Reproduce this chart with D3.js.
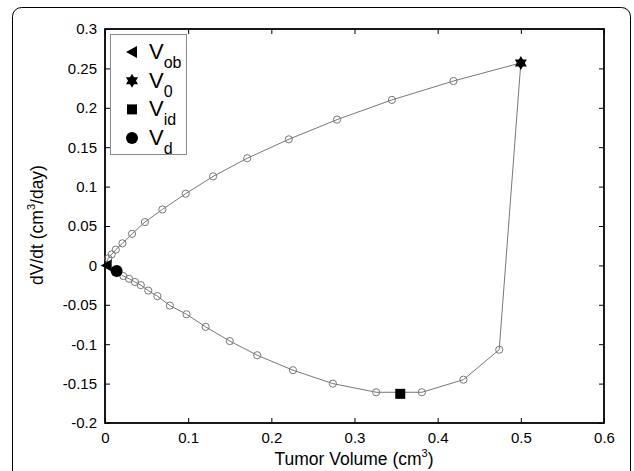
<!DOCTYPE html>
<html><head><meta charset="utf-8">
<script src="https://cdn.jsdelivr.net/npm/d3@7"></script>
<style>body{margin:0;background:#fff;} svg{display:block;font-family:"Liberation Sans",Arial,sans-serif;}</style>
</head><body>
<script>
// Trajectory data (tumor volume cm^3, dV/dt cm^3/day)
const upperV = [0.000,0.004,0.008,0.013,0.021,0.0325,0.048,0.069,0.097,0.130,0.171,0.221,0.279,0.345,0.419];
const upperR = [0.000,0.009,0.014,0.020,0.028,0.040,0.055,0.071,0.091,0.113,0.136,0.160,0.185,0.210,0.234];
const v0 = [0.5, 0.257];
const lowerV = [0.474,0.431,0.381,0.326,0.274,0.226,0.183,0.150,0.121,0.098,0.078,0.063,0.052,0.043,0.036,0.029,0.022];
const lowerR = [-0.107,-0.145,-0.161,-0.161,-0.150,-0.133,-0.114,-0.096,-0.078,-0.062,-0.051,-0.039,-0.032,-0.025,-0.021,-0.017,-0.0135];
const vd = [0.014, -0.007];
const vob = [0.002, 0.000];
const vid = [0.355, -0.163];
const xTicks = [0,0.1,0.2,0.3,0.4,0.5,0.6];
const yTicks = [-0.2,-0.15,-0.1,-0.05,0,0.05,0.1,0.15,0.2,0.25,0.3];
const legendItems = [{b:"V",s:"ob",m:"tri"},{b:"V",s:"0",m:"star"},{b:"V",s:"id",m:"sq"},{b:"V",s:"d",m:"circ"}];

const W=634,H=471;
const L=105,R=604,T=29,B=423;
const svg=d3.select("body").append("svg").attr("width",W).attr("height",H);
svg.append("rect").attr("x",12.5).attr("y",7.5).attr("width",618).attr("height",480).attr("rx",9).attr("fill","none").attr("stroke","#000").attr("stroke-width",1);

const x=d3.scaleLinear().domain([0,0.6]).range([L,R]);
const y=d3.scaleLinear().domain([-0.2,0.3]).range([B,T]);

const fmt=d=>d===0?"0":String(+d.toFixed(2));
const ax=(g,axis)=>g.call(axis).call(g=>g.select(".domain").remove()).call(g=>g.selectAll("line").attr("stroke","#000").attr("stroke-width",1)).call(g=>g.selectAll("text").attr("font-size",15).attr("fill","#000").attr("font-family","'Liberation Sans',Arial,sans-serif"));
svg.append("g").attr("transform",`translate(0,${B})`).call(g=>ax(g,d3.axisBottom(x).tickValues(xTicks).tickFormat(fmt).tickSizeInner(-5).tickSizeOuter(0).tickPadding(9)));
svg.append("g").attr("transform",`translate(${L},0)`).call(g=>ax(g,d3.axisLeft(y).tickValues(yTicks).tickFormat(fmt).tickSizeInner(-5).tickSizeOuter(0).tickPadding(8)));
svg.append("g").attr("transform",`translate(0,${T})`).call(g=>ax(g,d3.axisTop(x).tickValues(xTicks).tickFormat("").tickSizeInner(-5).tickSizeOuter(0)));
svg.append("g").attr("transform",`translate(${R},0)`).call(g=>ax(g,d3.axisRight(y).tickValues(yTicks).tickFormat("").tickSizeInner(-5).tickSizeOuter(0)));
svg.append("rect").attr("x",L).attr("y",T).attr("width",R-L).attr("height",B-T).attr("fill","none").attr("stroke","#000").attr("stroke-width",1.8);

// trajectory line
const pts=[];
upperV.forEach((v,i)=>pts.push([v,upperR[i]]));
pts.push(v0);
lowerV.forEach((v,i)=>pts.push([v,lowerR[i]]));
pts.push(vd); pts.push(vob);
const line=d3.line().x(d=>x(d[0])).y(d=>y(d[1]));
svg.append("path").attr("d",line(pts)).attr("fill","none").attr("stroke","#777").attr("stroke-width",1);

const circ=[];
upperV.forEach((v,i)=>{if(i>0)circ.push([v,upperR[i]]);});
lowerV.forEach((v,i)=>circ.push([v,lowerR[i]]));
svg.append("g").selectAll("circle").data(circ).join("circle").attr("cx",d=>x(d[0])).attr("cy",d=>y(d[1])).attr("r",3.6).attr("fill","none").attr("stroke","#777").attr("stroke-width",1);

function drawMarker(g,type,cx,cy){
  if(type==="tri") g.append("path").attr("d",`M${cx-6},${cy}L${cx+5},${cy-6}L${cx+5},${cy+6}Z`).attr("fill","#000");
  if(type==="star"){
    g.append("path").attr("d",`M${cx},${cy-7}L${cx+6},${cy+3.5}L${cx-6},${cy+3.5}Z`).attr("fill","#000");
    g.append("path").attr("d",`M${cx},${cy+7}L${cx+6},${cy-3.5}L${cx-6},${cy-3.5}Z`).attr("fill","#000");
  }
  if(type==="sq") g.append("rect").attr("x",cx-5).attr("y",cy-5).attr("width",10).attr("height",10).attr("fill","#000");
  if(type==="circ") g.append("circle").attr("cx",cx).attr("cy",cy).attr("r",6).attr("fill","#000");
}
const mk=svg.append("g");
drawMarker(mk,"tri",x(vob[0]),y(vob[1]));
drawMarker(mk,"circ",x(vd[0]),y(vd[1]));
drawMarker(mk,"sq",x(vid[0]),y(vid[1]));
drawMarker(mk,"star",x(v0[0]),y(v0[1]));

// legend
const lg=svg.append("g");
lg.append("rect").attr("x",110.5).attr("y",34.5).attr("width",76).attr("height",120).attr("fill","#fff").attr("stroke","#888").attr("stroke-width",1);
legendItems.forEach((it,i)=>{
  const cy=52+i*28.7;
  drawMarker(lg,it.m,132,cy);
  const t=lg.append("text").attr("x",149).attr("y",cy+7).attr("font-size",22).attr("fill","#000");
  t.append("tspan").text(it.b);
  t.append("tspan").attr("font-size",16).attr("dy",9).text(it.s);
});

// axis titles
const xt=svg.append("text").attr("x",354).attr("y",465).attr("text-anchor","middle").attr("font-size",17.5).attr("fill","#000");
xt.append("tspan").text("Tumor Volume (cm");
xt.append("tspan").attr("font-size",11).attr("dy",-8).text("3");
xt.append("tspan").attr("dy",8).text(")");
const yt=svg.append("text").attr("transform",`translate(43,225) rotate(-90)`).attr("text-anchor","middle").attr("font-size",17.5).attr("fill","#000");
yt.append("tspan").text("dV/dt (cm");
yt.append("tspan").attr("font-size",11).attr("dy",-8).text("3");
yt.append("tspan").attr("dy",8).text("/day)");
</script>
</body></html>
